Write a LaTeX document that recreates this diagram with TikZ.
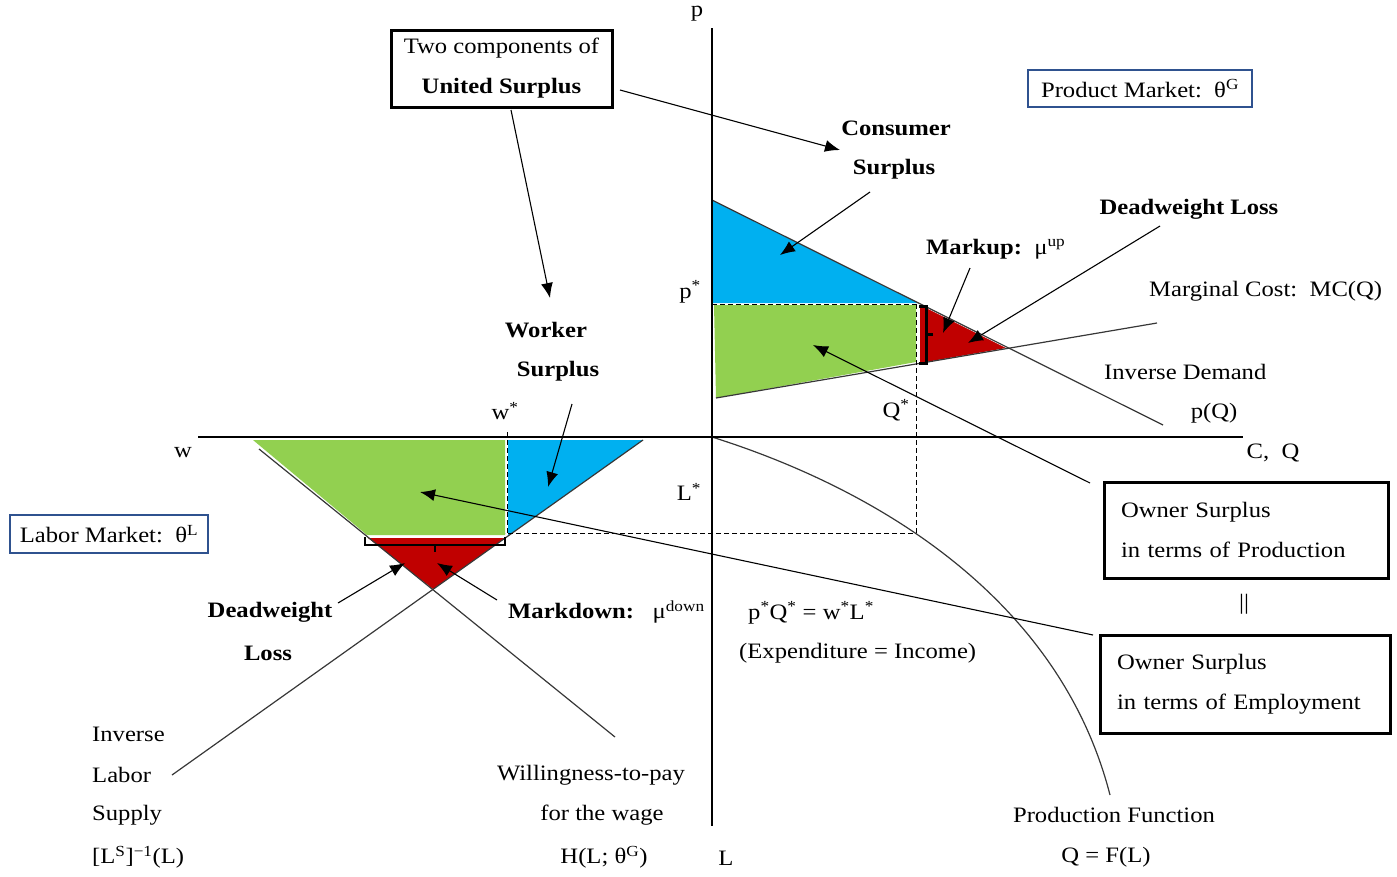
\documentclass[tikz,border=0pt]{standalone}
\usepackage{fontspec}
\setmainfont[FakeStretch=1.12]{Liberation Serif}
\usetikzlibrary{arrows.meta}
\definecolor{cblue}{RGB}{0,176,240}
\definecolor{cgreen}{RGB}{146,208,80}
\definecolor{cred}{RGB}{192,0,0}
\definecolor{boxblue}{RGB}{47,82,143}
\definecolor{ln}{RGB}{55,55,55}
\begin{document}
\begin{tikzpicture}[x=1pt,y=-1pt,
  txt/.style={font=\fontsize{22}{40}\selectfont, inner sep=0pt, text=black},
  bld/.style={font=\fontsize{22}{40}\selectfont\bfseries, inner sep=0pt, text=black},
  curveln/.style={draw=ln, line width=1.2pt},
  axisln/.style={draw=black, line width=1.3pt},
  arr/.style={draw=black, line width=1.1pt, -{Latex[length=15pt,width=12pt]}},
  guide/.style={draw=black, line width=1pt, dash pattern=on 5pt off 3pt},
  bbox/.style={draw=black, line width=3pt, fill=white, inner sep=0pt, font=\fontsize{22}{40}\selectfont},
  mbox/.style={draw=boxblue, line width=2.4pt, fill=white, inner sep=0pt, font=\fontsize{22}{40}\selectfont},
  brk/.style={draw=black, line width=3pt},
]
\useasboundingbox (0,0) rectangle (1397,876);

% ---------- filled areas: product market ----------
\fill[cblue] (712,200) -- (918,303) -- (712,303) -- cycle;
\fill[cgreen] (714,305) -- (916,305) -- (916,362) -- (716,398) -- cycle;
\fill[cred] (920,305) -- (1006,348) -- (920,363) -- cycle;

% ---------- filled areas: labor market ----------
\fill[cgreen] (253,440) -- (505,440) -- (505,535) -- (367,535) -- cycle;
\fill[cblue] (508,440) -- (643,440) -- (509,535) -- (508,535) -- cycle;
\fill[cred] (368,538) -- (505,538) -- (433,589) -- cycle;

% ---------- curves ----------
\draw[curveln] (712,200) -- (1163,425);
\draw[curveln] (716,398) -- (1157,323);
\draw[curveln] (259,449) -- (615,737);
\draw[curveln] (643,440) -- (172,775);
\draw[curveln] (712,437) .. controls (880,490) and (1060,600) .. (1110,795);

% ---------- axes ----------
\draw[axisln] (712,28) -- (712,826);
\draw[axisln] (198,437) -- (1243,437);

% ---------- guides ----------
\draw[guide] (712,304) -- (918,304);
\draw[guide] (916,304) -- (916,533) -- (505,533);
\draw[guide] (507,432) -- (507,535);

% ---------- brackets ----------
\draw[brk] (919,306) -- (926,306) -- (926,363) -- (919,363);
\draw[brk] (926,334) -- (933,334);
\draw[brk, line width=2.6pt] (365,537) -- (365,545) -- (505,545) -- (505,537);
\draw[brk, line width=2.6pt] (435,545) -- (435,552);

% ---------- axis labels ----------
\node[txt, anchor=base] (lp) at (697,16) {p};
\node[txt] (lps) at (690,292) {p\textsuperscript{*}};
\node[txt] (lqs) at (896,410) {Q\textsuperscript{*}};
\node[txt] (lws) at (505,411) {w\textsuperscript{*}};
\node[txt] (lls) at (689,492) {L\textsuperscript{*}};
\node[txt] (lw) at (183,453) {w};
\node[txt] (lcq) at (1273,453) {C,\ \ Q};
\node[txt] (ll) at (726,858) {L};

% ---------- boxes ----------
\node[bbox, minimum width=221pt, minimum height=77pt, align=center] (two) at (501.5,68.5)
  {Two components of\\\textbf{United Surplus}};
\node[mbox, minimum width=224pt, minimum height=37pt] (pm) at (1140,88.5)
  {Product Market:\ \ θ\textsuperscript{G}};
\node[mbox, minimum width=198pt, minimum height=38pt] (lm) at (109,534)
  {Labor Market:\ \ θ\textsuperscript{L}};
\node[bbox, text width=250pt, inner xsep=17pt, minimum height=96pt, align=left] (osp) at (1246,530)
  {Owner Surplus\\in terms of Production};
\node[bbox, text width=256pt, inner xsep=17pt, minimum height=98pt, align=left] (ose) at (1245,684)
  {Owner Surplus\\in terms of Employment};
\node[txt] (eq) at (1244,604) {||};

% ---------- product market labels ----------
\node[bld] (cs1) at (896,128) {Consumer};
\node[bld] (cs2) at (894,169) {Surplus};
\node[bld] (dwl) at (1189,209) {Deadweight Loss};
\node[txt, anchor=west] (mu) at (926,249) {\textbf{Markup:}\ \ μ\textsuperscript{up}};
\node[txt, anchor=west] (mc) at (1149,291) {Marginal Cost:\ \ MC(Q)};
\node[txt, anchor=west] (id) at (1104,372) {Inverse Demand};
\node[txt] (pq) at (1214,413) {p(Q)};

% ---------- labor market labels ----------
\node[bld] (ws1) at (546,330) {Worker};
\node[bld] (ws2) at (558,371) {Surplus};
\node[bld] (dl1) at (270,612) {Deadweight};
\node[bld] (dl2) at (268,653) {Loss};
\node[txt, anchor=west] (md) at (508,612) {\textbf{Markdown:}\ \ \ μ\textsuperscript{down}};
\node[txt, anchor=west] (pqwl) at (748,613) {p\textsuperscript{*}Q\textsuperscript{*} = w\textsuperscript{*}L\textsuperscript{*}};
\node[txt, anchor=west] (ei) at (739,653) {(Expenditure = Income)};
\node[txt, anchor=west] (ils1) at (92,734) {Inverse};
\node[txt, anchor=west] (ils2) at (92,775) {Labor};
\node[txt, anchor=west] (ils3) at (92,815) {Supply};
\node[txt, anchor=west] (ils4) at (92,857) {[L\textsuperscript{S}]\textsuperscript{−1}(L)};
\node[txt] (wtp1) at (591,775) {Willingness-to-pay};
\node[txt] (wtp2) at (602,815) {for the wage};
\node[txt] (wtp3) at (604,857) {H(L;\ θ\textsuperscript{G})};
\node[txt] (pf1) at (1114,815) {Production Function};
\node[txt] (pf2) at (1106,857) {Q = F(L)};

% ---------- arrow coordinates ----------
\coordinate (s1) at (620,90);   \coordinate (e1) at (840,150);
\coordinate (s2) at (511,110);  \coordinate (e2) at (550,298);
\coordinate (s3) at (870,192);  \coordinate (e3) at (780,255);
\coordinate (s4) at (970,268);  \coordinate (e4) at (943,333);
\coordinate (s5) at (1160,226); \coordinate (e5) at (968,343);
\coordinate (s6) at (1090,483); \coordinate (e6) at (813,345);
\coordinate (s7) at (1093,635); \coordinate (e7) at (420,492);
\coordinate (s8) at (572,404);  \coordinate (e8) at (548,487);
\coordinate (s9) at (497,600);  \coordinate (e9) at (437,563);
\coordinate (s10) at (338,603); \coordinate (e10) at (405,563);

\draw[arr] (s1) -- (e1);
\draw[arr] (s2) -- (e2);
\draw[arr] (s3) -- (e3);
\draw[arr] (s4) -- (e4);
\draw[arr] (s5) -- (e5);
\draw[arr] (s6) -- (e6);
\draw[arr] (s7) -- (e7);
\draw[arr] (s8) -- (e8);
\draw[arr] (s9) -- (e9);
\draw[arr] (s10) -- (e10);
\end{tikzpicture}
\end{document}
